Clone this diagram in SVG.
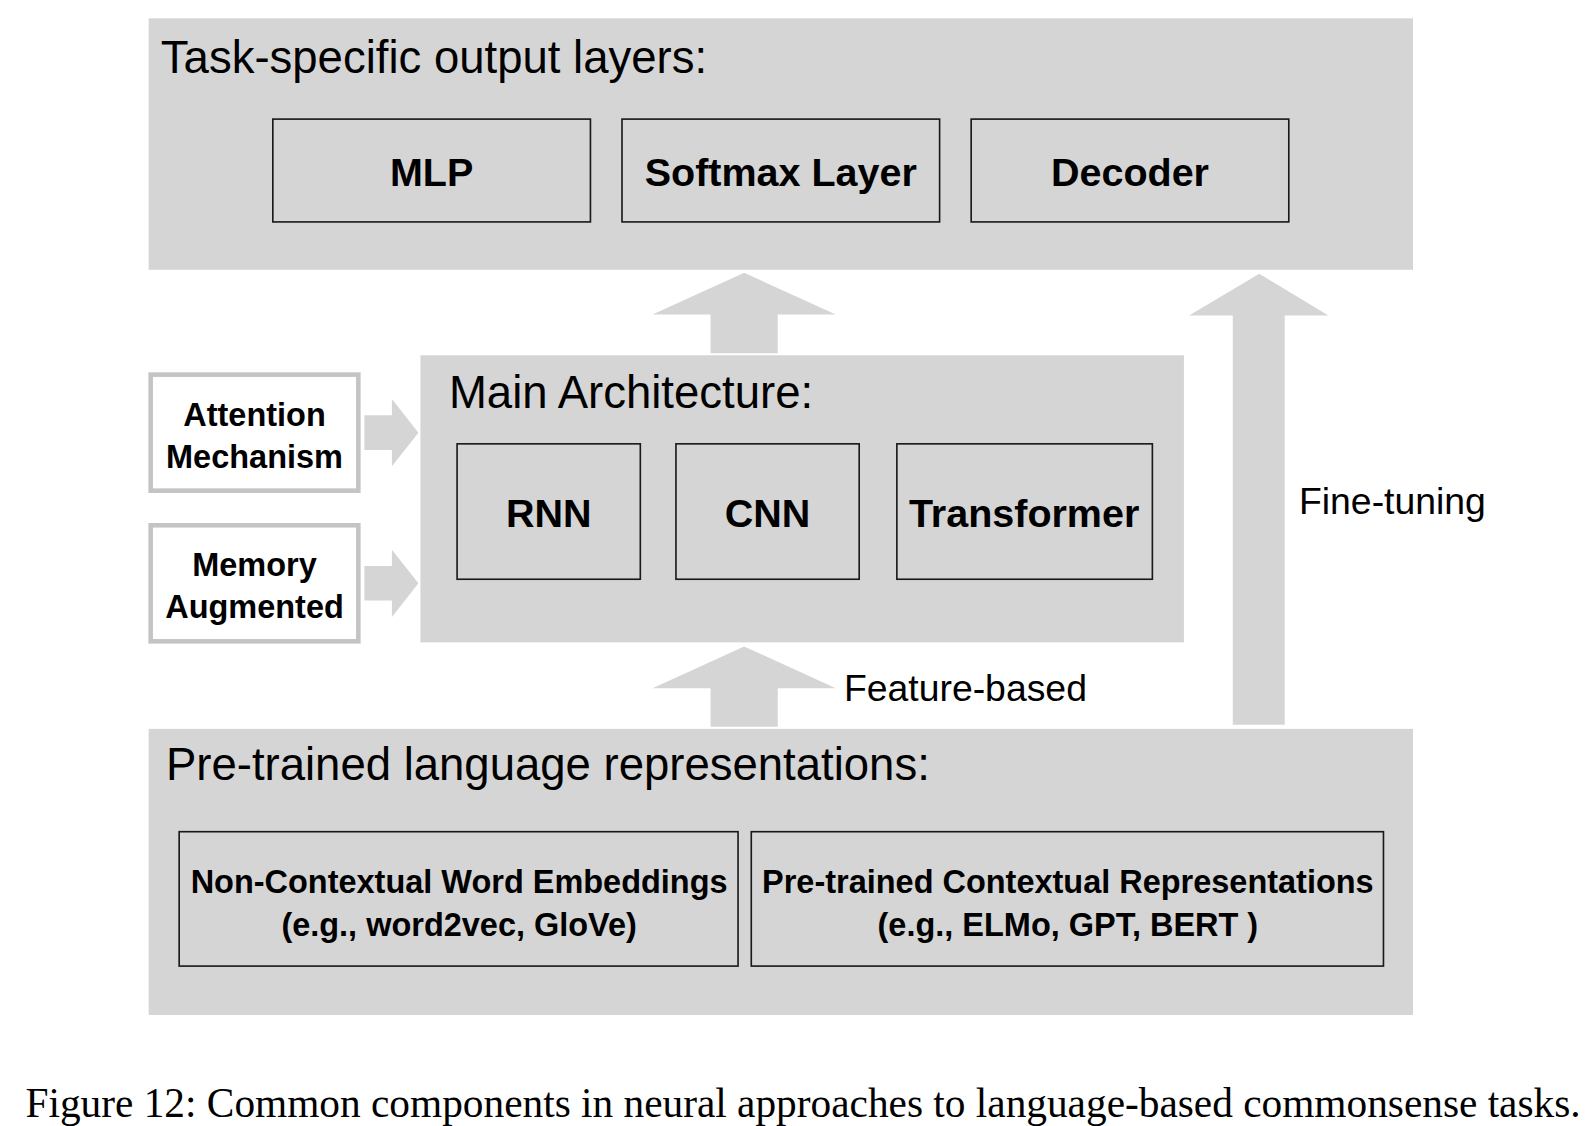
<svg xmlns="http://www.w3.org/2000/svg" width="1596" height="1126" viewBox="0 0 1596 1126">
<style>
.panel{fill:#d5d5d5}
.box{fill:none;stroke:#1a1a1a;stroke-width:1.6}
.wbox{fill:#ffffff;stroke:#c4c4c4;stroke-width:4.5}
.arrow{fill:#d5d5d5}
.title{font-family:"Liberation Sans",Arial,sans-serif;font-size:44.7px;fill:#000}
.lbl{font-family:"Liberation Sans",Arial,sans-serif;font-size:38.8px;font-weight:bold;fill:#000;text-anchor:middle}
.sm{font-family:"Liberation Sans",Arial,sans-serif;font-size:31.9px;font-weight:bold;fill:#000;text-anchor:middle}
.note{font-family:"Liberation Sans",Arial,sans-serif;font-size:36.7px;fill:#000}
.cap{font-family:"Liberation Serif","Times New Roman",serif;font-size:40.6px;fill:#000}
</style>
<rect width="1596" height="1126" fill="#fff"/>
<g transform="scale(1.018)">
<g id="output-layers">
<rect class="panel" x="146" y="18" width="1242" height="247"/>
<text class="title" x="158" y="72">Task-specific output layers:</text>
</g>
<g id="mlp"><rect class="box" x="268" y="117" width="312" height="101"/><text class="lbl" x="424" y="183">MLP</text></g>
<g id="softmax"><rect class="box" x="611" y="117" width="312" height="101"/><text class="lbl" x="767" y="183">Softmax Layer</text></g>
<g id="decoder"><rect class="box" x="954" y="117" width="312" height="101"/><text class="lbl" x="1110" y="183">Decoder</text></g>
<g id="main-architecture">
<rect class="panel" x="413" y="349" width="750" height="282"/>
<text class="title" x="441" y="401">Main Architecture:</text>
</g>
<g id="rnn"><rect class="box" x="449" y="436" width="180" height="133"/><text class="lbl" x="539" y="518">RNN</text></g>
<g id="cnn"><rect class="box" x="664" y="436" width="180" height="133"/><text class="lbl" x="754" y="518">CNN</text></g>
<g id="transformer"><rect class="box" x="881" y="436" width="251" height="133"/><text class="lbl" x="1006" y="518">Transformer</text></g>
<g id="attention"><rect class="wbox" x="148" y="368" width="204" height="114"/><text class="sm" x="250" y="418">Attention</text><text class="sm" x="250" y="460">Mechanism</text></g>
<g id="memory"><rect class="wbox" x="148" y="516" width="204" height="114"/><text class="sm" x="250" y="566">Memory</text><text class="sm" x="250" y="607">Augmented</text></g>
<g id="pretrained">
<rect class="panel" x="146" y="716" width="1242" height="281"/>
<text class="title" x="163" y="766">Pre-trained language representations:</text>
</g>
<g id="non-contextual"><rect class="box" x="176" y="817" width="549" height="132"/><text class="sm" x="451" y="877">Non-Contextual Word Embeddings</text><text class="sm" x="451" y="919">(e.g., word2vec, GloVe)</text></g>
<g id="contextual"><rect class="box" x="738" y="817" width="621" height="132"/><text class="sm" x="1049" y="877">Pre-trained Contextual Representations</text><text class="sm" x="1049" y="919">(e.g., ELMo, GPT, BERT )</text></g>
<g id="connectors">
<polygon class="arrow" points="731,268 821,309 764,309 764,347 698,347 698,309 641,309"/>
<polygon class="arrow" points="731,635 821,676 764,676 764,714 698,714 698,676 641,676"/>
<polygon class="arrow" points="1237,269 1305,310 1262,310 1262,712 1211,712 1211,310 1168,310"/>
<polygon class="arrow" points="411,425 385,392 385,408 358,408 358,442 385,442 385,458"/>
<polygon class="arrow" points="411,573 385,540 385,556 358,556 358,590 385,590 385,606"/>
<text class="note" x="829" y="689">Feature-based</text>
<text class="note" x="1276" y="505">Fine-tuning</text>
</g>
<text class="cap" x="25" y="1097">Figure 12: Common components in neural approaches to language-based commonsense tasks.</text>
</g>
</svg>
